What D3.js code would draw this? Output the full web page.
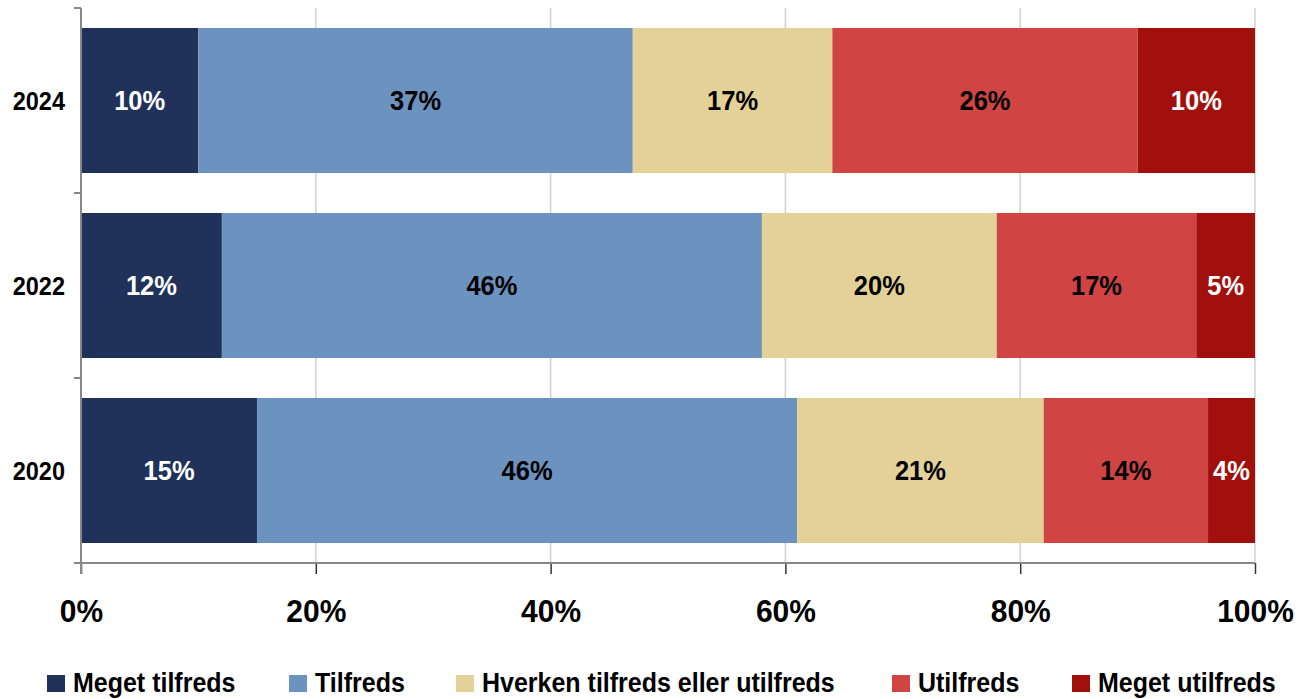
<!DOCTYPE html>
<html><head><meta charset="utf-8">
<script src="https://cdn.jsdelivr.net/npm/d3@7"></script>
<style>
body{margin:0;background:#fff;}
svg{display:block;font-family:"Liberation Sans",Arial,sans-serif;font-weight:bold;}
</style></head>
<body><svg id="c" width="1299" height="699"></svg>
<script>
const years = ["2024","2022","2020"];
const seriesNames = ["Meget tilfreds","Tilfreds","Hverken tilfreds eller utilfreds","Utilfreds","Meget utilfreds"];
const megetTilfreds = [10,12,15];
const tilfreds = [37,46,46];
const hverken = [17,20,21];
const utilfreds = [26,17,14];
const megetUtilfreds = [10,5,4];
const xTicks = [0,20,40,60,80,100];
const colors = ["#203259","#6C93BF","#E3D198","#D04444","#A1100D"];
const labelColors = ["#fff","#000","#000","#000","#fff"];

const seriesVals = [megetTilfreds,tilfreds,hverken,utilfreds,megetUtilfreds];
const rows = years.map((y,i)=>{const r={year:y}; seriesNames.forEach((s,j)=>r[s]=seriesVals[j][i]); return r;});
const stack = d3.stack().keys(seriesNames)(rows);

const SY = 1.07;
const svg = d3.select("#c");
const L=81,R=1255,T=8,B=563;
const x = d3.scaleLinear().domain([0,100]).range([L,R]);
const y = d3.scaleBand().domain(years).range([T,B]).paddingInner(0.216).paddingOuter(0.108);

// gridlines
svg.append("g").selectAll("line").data(xTicks.slice(1)).join("line")
  .attr("x1",d=>x(d)).attr("x2",d=>x(d)).attr("y1",T).attr("y2",B)
  .attr("stroke","#d0d0d0").attr("stroke-width",1.5);

// bars
const g = svg.append("g");
stack.forEach((layer,j)=>{
  g.append("g").selectAll("rect").data(layer).join("rect")
    .attr("x",d=>x(d[0])).attr("width",d=>x(d[1])-x(d[0]))
    .attr("y",d=>y(d.data.year)).attr("height",y.bandwidth())
    .attr("fill",colors[j]);
  g.append("g").selectAll("text").data(layer).join("text")
    .attr("transform",d=>`translate(${(x(d[0])+x(d[1]))/2},${y(d.data.year)+y.bandwidth()/2}) scale(1,${SY})`)
    .attr("dy","0.36em").attr("text-anchor","middle")
    .attr("fill",labelColors[j]).attr("font-size",25.5)
    .text(d=>(d[1]-d[0])+"%");
});

// x axis
const xa = svg.append("g").attr("transform",`translate(0,${B})`)
  .call(d3.axisBottom(x).tickValues(xTicks).tickFormat(d=>d+"%").tickSize(11).tickSizeOuter(0));
xa.select(".domain").remove();
xa.append("line").attr("x1",L-7).attr("x2",R).attr("y1",0).attr("y2",0).attr("stroke","#888").attr("stroke-width",2);
xa.selectAll(".tick line").attr("stroke","#333").attr("stroke-width",1.5);
xa.selectAll(".tick text").attr("font-size",30).attr("font-weight","bold").attr("fill","#000")
  .attr("font-family","Liberation Sans, Arial, sans-serif").attr("dy",0).attr("y",0)
  .attr("transform",`translate(0,59) scale(1,${SY})`);

// y axis
const ya = svg.append("g").attr("transform",`translate(${L},0)`)
  .call(d3.axisLeft(y).tickSize(0));
ya.select(".domain").remove();
ya.append("line").attr("x1",0).attr("x2",0).attr("y1",T).attr("y2",B+11).attr("stroke","#888").attr("stroke-width",2);
const bounds = [T, T+(B-T)/3, T+2*(B-T)/3, B];
ya.append("g").selectAll("line").data(bounds).join("line")
  .attr("x1",-7).attr("x2",0).attr("y1",d=>d).attr("y2",d=>d).attr("stroke","#888").attr("stroke-width",2);
ya.selectAll(".tick text").attr("font-size",23.5).attr("font-weight","bold").attr("fill","#000")
  .attr("font-family","Liberation Sans, Arial, sans-serif").attr("x",0).attr("dy","0.36em")
  .attr("transform",`translate(-16,0) scale(1,${SY})`);

// legend
const legX = [47,289,456,892,1072];
const lg = svg.append("g").selectAll("g").data(seriesNames).join("g")
  .attr("transform",(d,i)=>`translate(${legX[i]},675)`);
lg.append("rect").attr("width",18).attr("height",17).attr("fill",(d,i)=>colors[i]);
lg.append("text").attr("transform",`translate(26,17) scale(1,${SY})`).attr("font-size",25).attr("fill","#000").text(d=>d);
</script></body></html>
